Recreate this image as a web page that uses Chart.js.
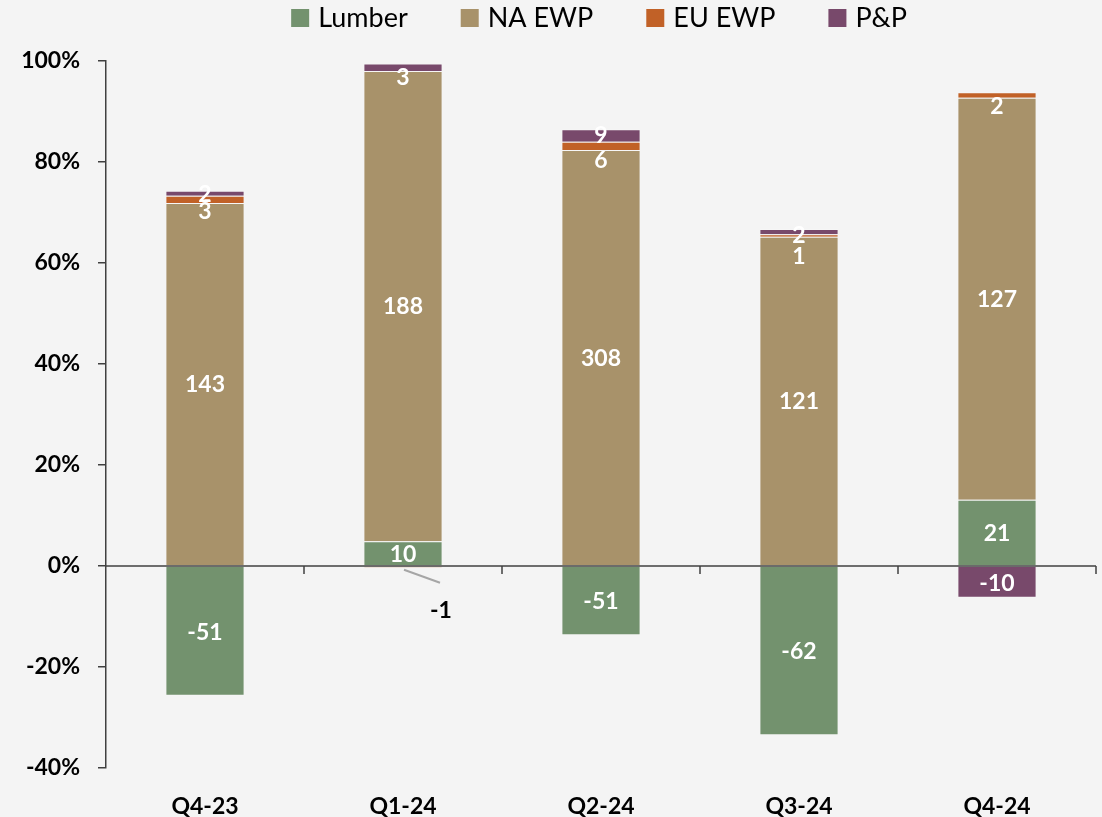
<!DOCTYPE html>
<html><head><meta charset="utf-8">
<script src="https://cdn.jsdelivr.net/npm/chart.js@4"></script>
<style>html,body{margin:0;padding:0;background:#f4f4f4;}#wrap{width:1102px;height:817px;position:relative;}</style>
</head><body><div id="wrap"><canvas id="c"></canvas></div>
<script>
const categories = ['Q4-23', 'Q1-24', 'Q2-24', 'Q3-24', 'Q4-24'];
const seriesNames = ['Lumber', 'NA EWP', 'EU EWP', 'P&P'];
// bar heights (share, %)
const lumberShare = [-25.7, 4.9, -13.7, -33.5, 13.1];
const naEwpShare = [71.9, 93.1, 82.4, 65.2, 79.6];
const euEwpShare = [1.4, -0.3, 1.6, 0.5, 1.1];
const ppShare = [1.0, 1.5, 2.5, 1.05, -6.3];
// data label values
const lumberValues = [-51, 10, -51, -62, 21];
const naEwpValues = [143, 188, 308, 121, 127];
const euEwpValues = [3, -1, 6, 1, 2];
const ppValues = [2, 3, 9, 2, -10];
// y axis tick range
const yMin = -40, yMax = 100, yStep = 20;

// styling
const colors = ['#73926e', '#a8926a', '#c16127', '#78496b'];
const FONT = 'Lato, "Open Sans", sans-serif';
const LABEL_SIZE = 23;
const labelNudge = { 2: [11, 0, 14, 20, 11], 3: [0, 9, -1, 3, 0] };
const callouts = [{ ds: 2, i: 1, dx: 38, dy: 43 }];

const shares = [lumberShare, naEwpShare, euEwpShare, ppShare];
const values = [lumberValues, naEwpValues, euEwpValues, ppValues];

const datasets = seriesNames.map((name, k) => ({
  label: name,
  data: shares[k],
  labelValues: values[k],
  backgroundColor: colors[k],
  borderColor: 'rgba(255,255,255,0.2)',
  borderWidth: 1,
  categoryPercentage: 1,
  barPercentage: 0.4
}));

const overlay = {
  id: 'overlay',
  beforeDraw(chart) {
    const { ctx, width, height } = chart;
    ctx.save(); ctx.fillStyle = '#f4f4f4'; ctx.fillRect(0, 0, width, height); ctx.restore();
  },
  afterDatasetsDraw(chart) {
    const { ctx, chartArea, scales: { x, y } } = chart;
    const y0 = y.getPixelForValue(0);
    ctx.save();
    ctx.strokeStyle = '#404040'; ctx.lineWidth = 1.5;
    ctx.beginPath();
    ctx.moveTo(chartArea.left, y0); ctx.lineTo(chartArea.right, y0);
    const step = x.width / categories.length;
    for (let i = 0; i < categories.length; i++) {
      const px = x.getPixelForValue(i) + step / 2;
      ctx.moveTo(px, y0); ctx.lineTo(px, y0 + 8);
    }
    ctx.stroke();
    ctx.font = 'bold ' + LABEL_SIZE + 'px ' + FONT;
    ctx.textAlign = 'center';
    ctx.textBaseline = 'alphabetic';
    chart.data.datasets.forEach((ds, di) => {
      const meta = chart.getDatasetMeta(di);
      meta.data.forEach((bar, i) => {
        const v = ds.labelValues[i];
        const co = callouts.find(c => c.ds === di && c.i === i);
        const cx = bar.x;
        if (co) {
          ctx.strokeStyle = '#a6a6a6'; ctx.lineWidth = 2;
          ctx.beginPath(); ctx.moveTo(cx + 1, bar.base + 3); ctx.lineTo(cx + co.dx - 1, bar.base + 16); ctx.stroke();
          ctx.fillStyle = '#000';
          ctx.fillText(String(v), cx + co.dx, bar.base + co.dy + 0.36 * LABEL_SIZE);
          return;
        }
        const cy = (bar.y + bar.base) / 2 + ((labelNudge[di] || [])[i] || 0);
        ctx.fillStyle = '#ffffff';
        ctx.fillText(String(v), cx, cy + 0.36 * LABEL_SIZE);
      });
    });
    ctx.restore();
  },
  afterDraw(chart) {
    const { ctx, chartArea } = chart;
    const fs = 27, box = 18, gap = 9, itemGap = 53;
    ctx.save();
    ctx.font = fs + 'px ' + FONT;
    const items = chart.data.datasets.map(d => ({ text: d.label, color: d.backgroundColor, w: ctx.measureText(d.label).width }));
    let total = items.reduce((s, it) => s + box + gap + it.w, 0) + itemGap * (items.length - 1);
    let px = (chartArea.left + chartArea.right) / 2 - total / 2 - 2;
    ctx.textBaseline = 'alphabetic'; ctx.textAlign = 'left';
    items.forEach(it => {
      ctx.fillStyle = it.color; ctx.fillRect(px, 9, box, box);
      ctx.fillStyle = '#000'; ctx.fillText(it.text, px + box + gap, 26.7);
      px += box + gap + it.w + itemGap;
    });
    ctx.restore();
  }
};

new Chart(document.getElementById('c'), {
  type: 'bar',
  data: { labels: categories, datasets },
  options: {
    responsive: true, maintainAspectRatio: false, animation: false,
    layout: { padding: { top: 61, right: 6, bottom: 0, left: 0 } },
    plugins: { legend: { display: false }, tooltip: { enabled: false } },
    scales: {
      x: {
        stacked: true,
        grid: { display: false, drawTicks: false },
        border: { display: false },
        ticks: { font: { family: FONT, weight: 'bold', size: 23 }, color: '#000', padding: 25, maxRotation: 0, autoSkip: false },
        afterFit(s) { s.height = 49; }
      },
      y: {
        stacked: true, min: yMin, max: yMax,
        ticks: { stepSize: yStep, callback: v => v + '%', font: { family: FONT, weight: 'bold', size: 23 }, color: '#000', padding: 18 },
        grid: { drawOnChartArea: false, drawTicks: true, tickLength: 8, color: '#404040', tickColor: '#404040', lineWidth: 1.5 },
        border: { display: true, color: '#404040', width: 1.5 },
        afterFit(s) { s.width = 106; }
      }
    }
  },
  plugins: [overlay]
});
</script></body></html>
